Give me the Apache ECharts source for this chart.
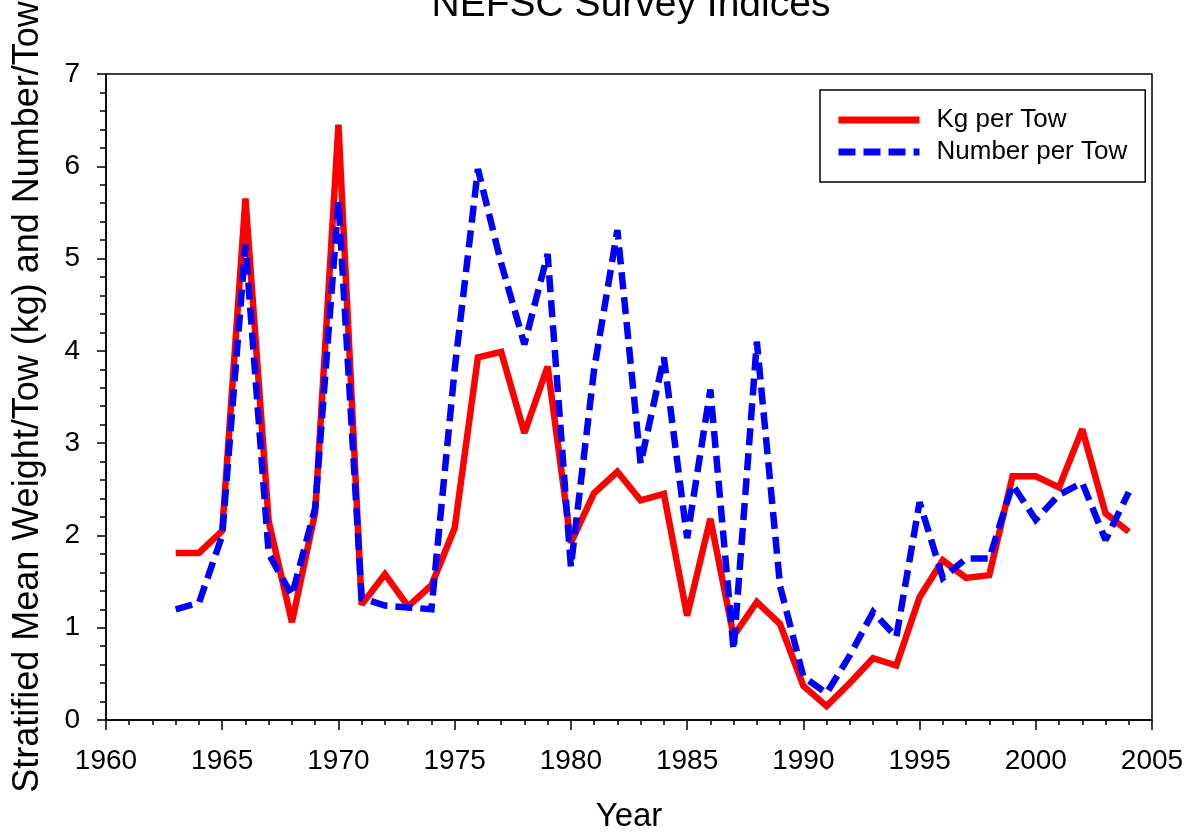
<!DOCTYPE html>
<html>
<head>
<meta charset="utf-8">
<script src="https://cdn.jsdelivr.net/npm/echarts@6/dist/echarts.min.js"></script>
<style>
html,body{margin:0;padding:0;background:#fff;}
#chart{width:1196px;height:838px;}
</style>
</head>
<body>
<div id="chart"></div>
<script>
const years = [1963,1964,1965,1966,1967,1968,1969,1970,1971,1972,1973,1974,1975,1976,1977,1978,1979,1980,1981,1982,1983,1984,1985,1986,1987,1988,1989,1990,1991,1992,1993,1994,1995,1996,1997,1998,1999,2000,2001,2002,2003,2004];
const kgPerTow = [1.81,1.81,2.05,5.65,2.15,1.06,2.25,6.45,1.25,1.58,1.23,1.46,2.08,3.93,3.99,3.11,3.83,1.92,2.46,2.69,2.38,2.45,1.13,2.18,0.91,1.28,1.04,0.37,0.15,0.40,0.67,0.59,1.33,1.73,1.54,1.57,2.64,2.64,2.52,3.15,2.24,2.04];
const numberPerTow = [1.20,1.27,2.00,5.15,1.80,1.35,2.30,5.62,1.32,1.24,1.22,1.20,3.80,5.97,4.95,4.07,5.05,1.66,3.80,5.31,2.78,3.93,1.97,3.58,0.76,4.10,1.45,0.47,0.29,0.70,1.17,0.90,2.36,1.54,1.75,1.75,2.55,2.17,2.44,2.57,1.95,2.47];
const seriesNames = ['Kg per Tow','Number per Tow'];
const titleText = 'NEFSC Survey Indices';
const xAxisName = 'Year';
const yAxisName = 'Stratified Mean Weight/Tow (kg) and Number/Tow';

const FONT = '"Liberation Sans", Arial, sans-serif';
const chart = echarts.init(document.getElementById('chart'), null, {renderer:'canvas'});
const pairs = (vals) => years.map((y,i) => [y, vals[i]]);

chart.setOption({
  animation: false,
  backgroundColor: '#fff',
  title: {
    text: titleText,
    left: 626, top: -19, textAlign: 'center',
    textStyle: {fontFamily: FONT, fontSize: 39, fontWeight: 'normal', color: '#000', lineHeight: 39}
  },
  grid: {
    left: 106, right: 44, top: 74, bottom: 118,
    outerBoundsMode: 'none', containLabel: false,
    show: true, borderColor: '#000', borderWidth: 1.5, backgroundColor: 'transparent'
  },
  legend: {
    data: seriesNames,
    orient: 'vertical',
    left: 820, top: 90,
    padding: [17, 18, 17, 15],
    itemWidth: 81, itemHeight: 2, itemGap: 6,
    borderColor: '#000', borderWidth: 1.5,
    backgroundColor: '#fff',
    lineStyle: {width: 7},
    itemStyle: {opacity: 0},
    textStyle: {fontFamily: FONT, fontSize: 26, color: '#000', lineHeight: 26, padding: [0,0,0,12]}
  },
  xAxis: {
    type: 'value', min: 1960, max: 2005, interval: 5,
    name: xAxisName, nameLocation: 'middle', nameGap: 80,
    nameTextStyle: {fontFamily: FONT, fontSize: 33, color: '#000'},
    axisLine: {show: true, onZero: false, lineStyle: {color: '#000', width: 1.5}},
    axisTick: {show: true, inside: false, length: 10, lineStyle: {color: '#000', width: 1.5}},
    minorTick: {show: true, splitNumber: 5, length: 5, lineStyle: {color: '#000', width: 1.5}},
    axisLabel: {fontFamily: FONT, fontSize: 28, color: '#000', margin: 27, formatter: (v) => String(v)},
    splitLine: {show: false}
  },
  yAxis: {
    type: 'value', min: 0, max: 7, interval: 1,
    name: yAxisName, nameLocation: 'middle', nameGap: 60, nameRotate: 90,
    nameTextStyle: {fontFamily: FONT, fontSize: 36, color: '#000'},
    axisLine: {show: true, lineStyle: {color: '#000', width: 1.5}},
    axisTick: {show: true, inside: false, length: 9, lineStyle: {color: '#000', width: 1.5}},
    minorTick: {show: true, splitNumber: 5, length: 6, lineStyle: {color: '#000', width: 1.5}},
    axisLabel: {fontFamily: FONT, fontSize: 28, color: '#000', margin: 26},
    splitLine: {show: false}
  },
  series: [
    {
      name: seriesNames[0], type: 'line', data: pairs(kgPerTow),
      symbol: 'none', showSymbol: false,
      lineStyle: {color: '#ff0000', width: 6.5, type: 'solid', join: 'miter', miterLimit: 2},
      itemStyle: {color: '#ff0000'}, z: 2
    },
    {
      name: seriesNames[1], type: 'line', data: pairs(numberPerTow),
      symbol: 'none', showSymbol: false,
      lineStyle: {color: '#0000ff', width: 6.5, type: [17, 8], join: 'miter', miterLimit: 2},
      itemStyle: {color: '#0000ff'}, z: 3
    }
  ]
});
</script>
</body>
</html>
